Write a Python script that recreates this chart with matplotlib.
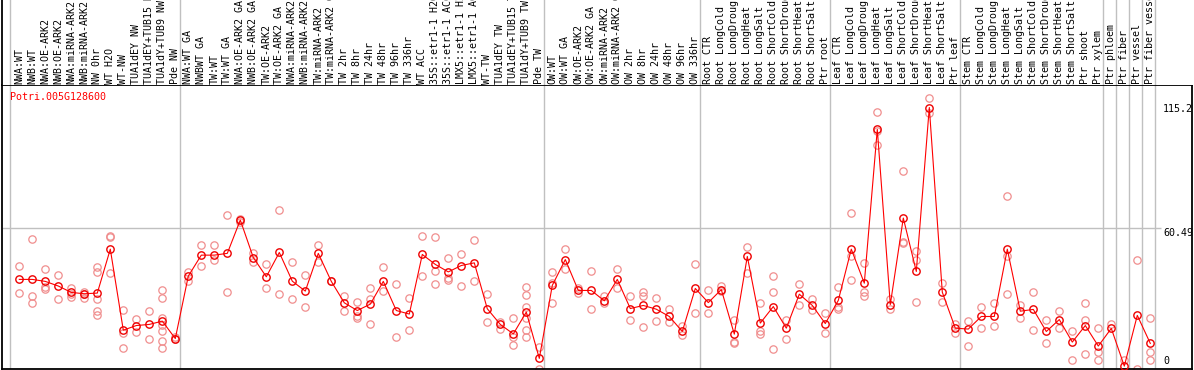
import matplotlib
matplotlib.use("Agg")
import matplotlib.pyplot as plt

# sample names, in plot order
labels = [
    "NWA:WT", "NWB:WT", "NWA:OE-ARK2", "NWB:OE-ARK2", "NWA:miRNA-ARK2", "NWB:miRNA-ARK2",
    "NW 0hr", "WT H2O", "WT-NW", "TUA1dEY NW", "TUA1dEY+TUB15 NW", "TUA1dY+TUB9 NW", "Pde NW",
    "NWA:WT GA", "NWBWT GA", "TW:WT", "TW:WT GA", "NWA:OE-ARK2 GA", "NWB:OE-ARK2 GA",
    "TW:OE-ARK2", "TW:OE-ARK2 GA", "NWA:miRNA-ARK2 GA", "NWB:miRNA-ARK2 GA", "TW:miRNA-ARK2",
    "TW:miRNA-ARK2 GA", "TW 2hr", "TW 8hr", "TW 24hr", "TW 48hr", "TW 96hr", "TW 336hr",
    "WT ACC", "35S::etr1-1 H2O", "35S::etr1-1 ACC", "LMX5::etr1-1 H2O", "LMX5::etr1-1 ACC",
    "WT-TW", "TUA1dEY TW", "TUA1dEY+TUB15 TW", "TUA1dY+TUB9 TW", "Pde TW",
    "OW:WT", "OW:WT GA", "OW:OE-ARK2", "OW:OE-ARK2 GA", "OW:miRNA-ARK2", "OW:miRNA-ARK2 GA",
    "OW 2hr", "OW 8hr", "OW 24hr", "OW 48hr", "OW 96hr", "OW 336hr",
    "Root CTR", "Root LongCold", "Root LongDrought", "Root LongHeat", "Root LongSalt",
    "Root ShortCold", "Root ShortDrought", "Root ShortHeat", "Root ShortSalt", "Ptr root",
    "Leaf CTR", "Leaf LongCold", "Leaf LongDrought", "Leaf LongHeat", "Leaf LongSalt",
    "Leaf ShortCold", "Leaf ShortDrought", "Leaf ShortHeat", "Leaf ShortSalt", "Ptr leaf",
    "Stem CTR", "Stem LongCold", "Stem LongDrought", "Stem LongHeat", "Stem LongSalt",
    "Stem ShortCold", "Stem ShortDrought", "Stem ShortHeat", "Stem ShortSalt",
    "Ptr shoot", "Ptr xylem",
    "Ptr phloem", "Ptr fiber", "Ptr vessel", "Ptr fiber vessel",
]

# last index of each group (a grey line is drawn after it)
group_ends = [12, 40, 52, 62, 72, 83, 84, 85, 86, 87]

# mean expression per sample
means = [
    37.2, 37.2, 36.3, 34.2, 31.3, 30.7, 31.0, 50.9, 14.2, 16.3, 16.8, 18.3, 10.4,
    38.7, 48.2, 48.2, 49.0, 64.1, 47.1, 38.4, 49.4, 36.4, 31.9, 49.0, 36.3, 26.6, 23.1,
    26.0, 36.3, 23.1, 21.5, 48.5, 44.0, 40.6, 43.5, 44.7, 23.9, 16.8, 12.5, 22.4, 1.4,
    34.5, 46.2, 32.2, 32.2, 27.5, 37.2, 24.0, 25.4, 23.7, 20.4, 13.6, 33.1,
    26.7, 32.6, 12.4, 47.6, 17.4, 24.9, 15.1, 30.5, 25.4, 17.2,
    27.7, 50.9, 35.5, 105.2, 25.8, 65.0, 40.8, 115.1, 31.4, 15.1,
    14.7, 20.4, 20.4, 50.9, 22.8, 23.6, 13.6, 19.0, 8.8, 16.3, 7.0,
    15.0, -2.1, 20.9, 8.2,
]

# single replicates per sample
reps = [
    [43.5, 31.1], [55.3, 29.6, 26.7], [41.7, 33.9, 32.8], [39.4, 28.1],
    [33.2, 29.3, 30.8], [31.7, 28.7, 30.5], [42.8, 40.6, 28.4, 23.0, 20.9],
    [56.8, 56.4, 40.3], [23.3, 12.7, 6.0], [19.2, 13.5], [22.8, 10.4],
    [32.6, 29.0, 19.8, 16.5, 13.9, 9.1, 6.0], [10.4, 11.0],
    # 13-40
    [40.6, 36.4], [52.6, 43.5], [52.6, 46.1], [66.6, 31.3], [64.8, 63.3],
    [49.0, 45.2], [44.4, 33.1], [68.6, 30.5], [44.9, 28.1], [39.0, 24.5],
    [52.6, 44.9], [36.3], [29.6, 22.7], [26.9, 20.7, 19.8], [33.1, 28.3, 16.8],
    [42.8, 31.9], [35.1, 11.3], [28.6, 14.2], [56.8, 38.7], [56.2, 41.1, 34.9],
    [47.1, 37.9, 36.9], [48.7, 34.0], [54.9, 36.4], [30.8, 18.1], [18.0, 14.8],
    [19.5, 11.0, 7.3], [33.7, 30.2, 24.6, 19.6, 14.2, 11.0], [6.5, -3.6],
    # 41-52
    [40.6, 35.7, 26.3], [50.9, 41.7], [33.1, 31.1], [40.8, 23.6], [29.8, 26.3],
    [41.7, 33.2], [29.6, 18.7], [31.4, 29.6, 15.7], [28.6, 18.3], [23.7, 18.1],
    [16.2, 11.9], [44.0, 21.9],
    # 53-62
    [32.2, 22.2], [34.3, 32.0], [18.7, 8.9, 8.2], [51.8, 39.9], [26.6, 13.6, 12.4],
    [38.7, 31.4, 5.6], [18.7, 10.1], [35.1, 25.5], [28.4, 23.4], [21.8, 12.8],
    # 63-72
    [33.7, 24.8, 23.7], [67.1, 47.9, 37.0], [44.6, 31.6, 29.9], [112.9, 104.6, 98.1],
    [28.3, 24.0], [86.3, 54.2, 53.5], [50.0, 45.8, 26.9], [119.4, 112.7],
    [35.5, 26.9], [17.1, 12.7],
    # 73-83
    [18.4, 6.8], [24.5, 15.4], [26.7, 16.3], [74.8, 47.9, 30.5], [25.5, 19.6],
    [31.7, 14.5], [19.0, 8.6], [22.8, 15.3], [13.9, 0.6], [26.3, 19.0, 3.2],
    [15.4, 4.4, 0.5],
    # 84-87
    [16.9], [0.9], [45.8, -3.3], [19.9, 4.5, 0.5],
]

gene = "Potri.005G128600"
ytick_vals = [115.2, 60.49, 0]

W, H = 1194, 370
fig = plt.figure(figsize=(W / 100, H / 100), dpi=100)
mono = "DejaVu Sans Mono"

ax = fig.add_axes([2 / W, 1 / H, 1190 / W, 284 / H])
hx = fig.add_axes([2 / W, 285 / H, 1192 / W, 85 / H])

x = list(range(len(labels)))
px0, step = 19.3, 13.0          # pixel of first sample, pixels per sample
xlo = (2 - px0) / step
ax.set_xlim(xlo, (1192 - px0) / step)
hx.set_xlim(xlo, (1194 - px0) / step)
ax.set_ylim(-3.4, 125.3)
hx.set_ylim(0, 85)

grey = "#c0c0c0"
seps = [-0.72] + [g + 0.36 for g in group_ends]
for s in seps:
    ax.axvline(s, color=grey, lw=1.0, zorder=0)
    hx.axvline(s, color=grey, lw=1.0, zorder=0)
ax.hlines(ytick_vals[1], xlo, (1161 - px0) / step, color=grey, lw=1.0, zorder=0)

# replicates
rx, ry = [], []
for i, r in enumerate(reps):
    for v in r:
        rx.append(i)
        ry.append(v)
ax.plot(rx, ry, ls="none", marker="o", ms=5.3, mfc="none", mec="#f08e8e",
        mew=0.9, zorder=2)

# means
ax.plot(x, means, color="#ff0000", lw=0.8, marker="o", ms=5.3, mfc="none",
        mec="#ee0000", mew=1.0, zorder=3)

for sp in ["top", "bottom", "left", "right"]:
    ax.spines[sp].set_color("black")
    ax.spines[sp].set_linewidth(1.3)
ax.set_xticks([])
ax.set_yticks([])

for sp in ["top", "bottom", "right"]:
    hx.spines[sp].set_visible(False)
hx.spines["left"].set_linewidth(1.3)
hx.set_yticks([])
hx.set_xticks([])

for i, lab in enumerate(labels):
    hx.text(i, 1.5, lab, rotation=90, ha="center", va="bottom",
            fontsize=7.2, family=mono, color="black")

ax.text(8 / 1190, 1 - 12 / 284, gene, transform=ax.transAxes, ha="left",
        va="center", fontsize=7.2, family=mono, color="#ff0000")

xlab = (1163 - px0) / step
ax.text(xlab, 114.3, "115.2", ha="left", va="center", fontsize=7.2,
        family=mono, clip_on=True)
ax.text(xlab, ytick_vals[1], "60.49", ha="left", va="top", fontsize=7.2,
        family=mono, clip_on=True)
ax.text(xlab, ytick_vals[2], "0", ha="left", va="center", fontsize=7.2,
        family=mono, clip_on=True)

fig.savefig("out.png", dpi=100)
